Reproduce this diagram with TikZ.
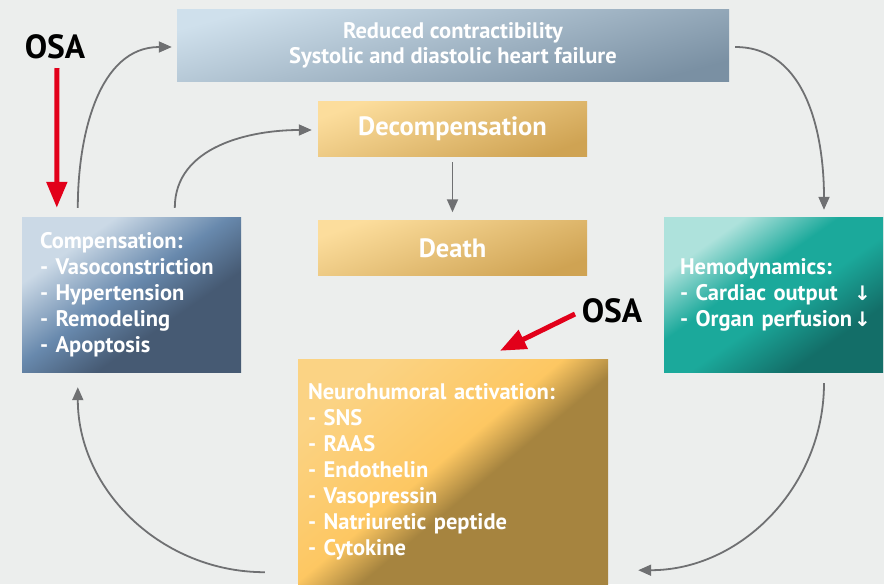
\documentclass[tikz,border=0pt]{standalone}
\usepackage{fontspec}
\setmainfont{PT Sans}
\newfontfamily\arrowfont{DejaVu Sans}
\usetikzlibrary{arrows.meta,calc}

\definecolor{bgc}{HTML}{ECEEED}
\definecolor{linec}{HTML}{6F7072}
\definecolor{osared}{HTML}{E2001A}
\definecolor{toplight}{HTML}{CFE0EC}
\definecolor{topmid}{HTML}{A5C3DA}
\definecolor{topdark}{HTML}{7A90A3}
\definecolor{complight}{HTML}{CBD9E6}
\definecolor{compmid}{HTML}{6889AD}
\definecolor{compdark}{HTML}{465A73}
\definecolor{hemolight}{HTML}{AEE2DC}
\definecolor{hemomid}{HTML}{1BA99B}
\definecolor{hemodark}{HTML}{136E68}
\definecolor{orlight}{HTML}{FCDD9C}
\definecolor{ormid}{HTML}{FDC45E}
\definecolor{ordark}{HTML}{CFA353}
\definecolor{neurolight}{HTML}{FBD384}
\definecolor{neuromid}{HTML}{FDC762}
\definecolor{neurodark}{HTML}{A6843F}

\pgfdeclareverticalshading{compshade}{100bp}{color(0bp)=(compdark); color(38bp)=(compdark); color(52bp)=(compmid); color(70bp)=(complight); color(100bp)=(complight)}
\pgfdeclareverticalshading{hemoshade}{100bp}{color(0bp)=(hemodark); color(30bp)=(hemodark); color(46bp)=(hemomid); color(57bp)=(hemomid); color(72bp)=(hemolight); color(100bp)=(hemolight)}
\pgfdeclareverticalshading{neuroshade}{100bp}{color(0bp)=(neurodark); color(45bp)=(neurodark); color(53bp)=(neuromid); color(75bp)=(neurolight); color(100bp)=(neurolight)}

% a line of the hemodynamics box, with the arrow at its right end
\newcommand\lessline[1]{\makebox[191pt][l]{#1\hfill{\arrowfont\fontsize{20}{26}\selectfont ↓}}}

\tikzset{
  box/.style={rectangle, inner sep=0pt, text=white, align=left,
    font=\bfseries\fontsize{22.5}{26}\selectfont},
  orangebox/.style={box, align=center, top color=orlight, middle color=ormid, bottom color=ordark, shading angle=20,
    minimum width=269pt, minimum height=55pt, font=\bfseries\fontsize{26.5}{30}\selectfont},
  flow/.style={draw=linec, line width=1.8pt, -{Triangle[length=13pt,width=11pt]}},
  redflow/.style={draw=osared, line width=5pt, -{Triangle[length=26pt,width=20pt]}},
  osalabel/.style={inner sep=0pt, font=\bfseries\fontsize{33.5}{38}\selectfont}
}

\begin{document}
\begin{tikzpicture}[x=1pt,y=1pt]

\fill[bgc] (0,0) rectangle (884,-584);
\useasboundingbox (0,0) rectangle (884,-584);

% boxes
\node[box, align=center, top color=toplight, middle color=topmid, bottom color=topdark, shading angle=15,
  minimum width=552pt, minimum height=72pt, font=\bfseries\fontsize{22.5}{25}\selectfont]
  (top) at (453,-45) {Reduced contractibility\\Systolic and diastolic heart failure};
\node[orangebox] (decomp) at (452.5,-129) {Decompensation};
\node[orangebox] (death) at (452.5,-248) {Death};
\node[box, shading=compshade, shading angle=35, inner xsep=18pt, text width=183pt, minimum height=155pt]
  (comp) at (131.5,-294.5)
  {Compensation:\\- Vasoconstriction\\- Hypertension\\- Remodeling\\- Apoptosis};
\node[box, shading=hemoshade, shading angle=35, inner xsep=16pt, text width=187pt, minimum height=155pt]
  (hemo) at (773.5,-294.5)
  {Hemodynamics:\\\lessline{- Cardiac output}\\\lessline{- Organ perfusion}};
\node[box, shading=neuroshade, shading angle=40, inner xsep=10pt, text width=290pt, minimum height=225pt]
  (neuro) at (453,-471.5)
  {Neurohumoral activation:\\- SNS\\- RAAS\\- Endothelin\\- Vasopressin\\- Natriuretic peptide\\- Cytokine};

% OSA
\node[osalabel] (osa1) at (55,-47) {OSA};
\node[osalabel] (osa2) at (612,-311) {OSA};

% connectors
\draw[flow] ($(comp.north west)+(56,9)$) to[out=90,in=180] ($(top.west)+(-5,-2)$);
\draw[flow] ($(comp.north west)+(153,9)$) to[out=90,in=180] ($(decomp.west)+(-6,-1)$);
\draw[flow] ($(top.east)+(6,-2)$) to[out=0,in=90] ($(hemo.north)+(50.5,7)$);
\draw[flow] ($(hemo.south)+(50.5,-11)$) to[out=270,in=0] ($(neuro.south east)+(30,14)$);
\draw[flow] ($(neuro.south west)+(-33,12)$) to[out=180,in=270] ($(comp.south west)+(56,-15)$);
\draw[flow, shorten <=5.5pt, shorten >=8pt] (decomp) -- (death);

\draw[redflow] ($(osa1.center)+(2,-21)$) -- ($(comp.north west)+(35,9)$);
\draw[redflow] ($(osa2.center)+(-37,-3)$) -- ($(neuro.north)+(47,8)$);

\end{tikzpicture}
\end{document}
